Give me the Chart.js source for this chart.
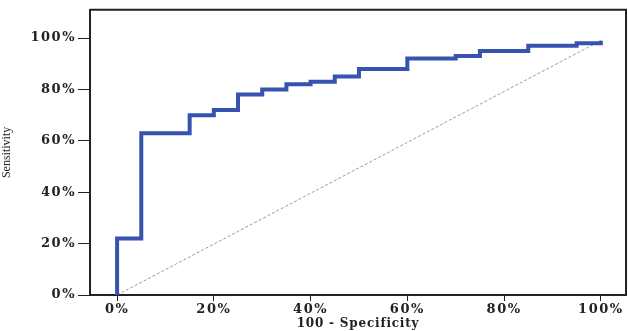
<!DOCTYPE html>
<html>
<head>
<meta charset="utf-8">
<script src="https://cdn.jsdelivr.net/npm/chart.js@4"></script>
<style>
  html, body { margin: 0; padding: 0; background: #fff; }
  #wrap { width: 628px; height: 331px; }
</style>
</head>
<body>
<div id="wrap"><canvas id="roc" width="628" height="331"></canvas></div>
<script>
// ROC curve
const fpr = [0, 0, 5, 15, 20, 25, 30, 35, 40, 45, 50, 60, 70, 75, 85, 95, 100];
const tpr = [0, 22, 63, 70, 72, 78, 80, 82, 83, 85, 88, 92, 93, 95, 97, 98, 99];
const diagX = [0, 100];
const diagY = [0, 99];
const tickValues = [0, 20, 40, 60, 80, 100];
const tickLabels = ['0%', '20%', '40%', '60%', '80%', '100%'];

const serif = "'DejaVu Serif', 'Liberation Serif', serif";

// wide lettering for the tick labels, tighter for the titles
function wrapTitle(chart, scale, spacing) {
    if (scale._wrapped) return;
    const orig = scale.drawTitle.bind(scale);
    scale.drawTitle = function () {
        chart.ctx.letterSpacing = spacing;
        orig();
        chart.ctx.letterSpacing = '1.5px';
    };
    scale._wrapped = true;
}
const spacingPlugin = {
    id: 'spacing',
    beforeDraw(chart) {
        chart.ctx.letterSpacing = '1.5px';
        wrapTitle(chart, chart.scales.y, '0px');
        wrapTitle(chart, chart.scales.x, '0.8px');
    }
};

// frame around the plot area
const boxPlugin = {
    id: 'box',
    afterDatasetsDraw(chart) {
        const a = chart.chartArea;
        const ctx = chart.ctx;
        ctx.save();
        ctx.strokeStyle = '#222';
        ctx.lineWidth = 2;
        ctx.beginPath();
        ctx.moveTo(a.left, a.top);
        ctx.lineTo(a.right, a.top);
        ctx.lineTo(a.right, a.bottom);
        ctx.stroke();
        ctx.restore();
    }
};

const ctx = document.getElementById('roc').getContext('2d');
new Chart(ctx, {
    type: 'scatter',
    data: {
        datasets: [{
            data: diagX.map((x, i) => ({ x: x, y: diagY[i] })),
            showLine: true,
            borderColor: '#9a9a9a',
            borderWidth: 1,
            borderDash: [3, 2],
            pointRadius: 0,
            order: 2
        }, {
            data: fpr.map((x, i) => ({ x: x, y: tpr[i] })),
            showLine: true,
            stepped: 'before',
            borderColor: '#3653b0',
            borderWidth: 4,
            pointRadius: 0,
            order: 1
        }]
    },
    options: {
        responsive: false,
        animation: false,
        layout: { padding: { top: 8, right: 2, left: 0, bottom: 0 } },
        plugins: { legend: { display: false }, tooltip: { enabled: false } },
        scales: {
            x: {
                type: 'linear',
                min: -5.6,
                max: 105.2,
                afterBuildTicks: s => { s.ticks = tickValues.map(v => ({ value: v })); },
                afterFit: s => { s.height = 36; },
                ticks: {
                    callback: (v, i) => tickLabels[i],
                    color: '#222',
                    font: { family: serif, size: 13, weight: 'bold' },
                    padding: 1,
                    maxRotation: 0
                },
                grid: { drawOnChartArea: false, tickLength: 6, color: '#222', tickWidth: 1 },
                border: { color: '#222', width: 2 },
                title: {
                    display: true,
                    text: '100 - Specificity',
                    color: '#222',
                    font: { family: serif, size: 12, weight: 'bold' },
                    padding: { top: 0, bottom: 0 }
                }
            },
            y: {
                min: 0,
                max: 111,
                afterBuildTicks: s => { s.ticks = tickValues.map(v => ({ value: v })); },
                afterFit: s => { s.width = 90; },
                ticks: {
                    callback: (v, i) => tickLabels[i],
                    color: '#222',
                    font: { family: serif, size: 13, weight: 'bold' },
                    padding: 2
                },
                grid: { drawOnChartArea: false, tickLength: 12, color: '#222', tickWidth: 1 },
                border: { color: '#222', width: 2 },
                title: {
                    display: true,
                    text: 'Sensitivity',
                    color: '#222',
                    font: { family: "'Liberation Serif', serif", size: 12 },
                    padding: 0
                }
            }
        }
    },
    plugins: [spacingPlugin, boxPlugin]
});
</script>
</body>
</html>
